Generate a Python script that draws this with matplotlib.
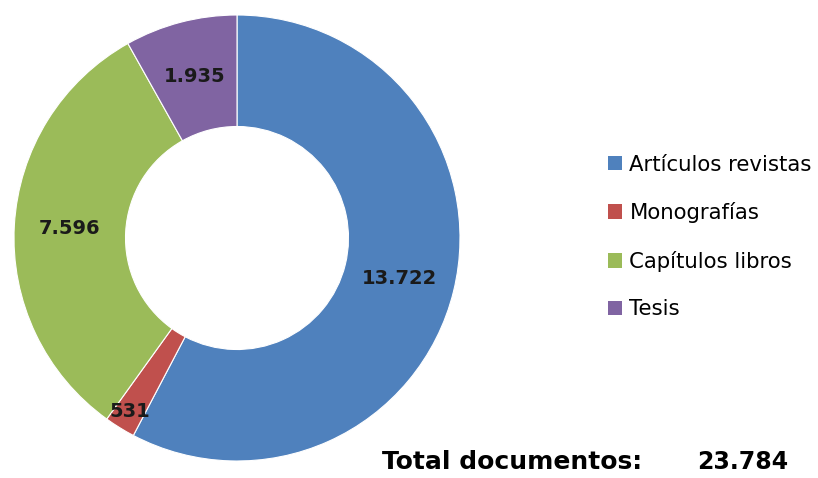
import matplotlib
matplotlib.use("Agg")
import matplotlib.pyplot as plt
import numpy as np
from matplotlib.patches import Patch

categories = ["Artículos revistas", "Monografías", "Capítulos libros", "Tesis"]
values = [13722, 531, 7596, 1935]
value_labels = ["13.722", "531", "7.596", "1.935"]
colors = ["#4F81BD", "#C0504D", "#9BBB59", "#8064A2"]
total_label = "Total documentos:"
total_value = "23.784"

W, H = 818, 478
fig = plt.figure(figsize=(W / 100, H / 100), dpi=100)
cx, cy, R = 237, 238, 223
ax = fig.add_axes([(cx - R) / W, (H - cy - R) / H, 2 * R / W, 2 * R / H])
wedges, _ = ax.pie(values, colors=colors, startangle=90, counterclock=False,
                   radius=1.0, wedgeprops=dict(width=0.5, edgecolor="white", linewidth=0.8))
ax.set_xlim(-1, 1)
ax.set_ylim(-1, 1)
ax.set_aspect("equal")
ax.axis("off")

label_r = [0.75, 0.915, 0.75, 0.75]
for w, lab, r in zip(wedges, value_labels, label_r):
    mid = np.deg2rad((w.theta1 + w.theta2) / 2)
    ax.text(r * np.cos(mid), r * np.sin(mid), lab, ha="center", va="center",
            fontsize=14, fontweight="bold", color="#1a1a1a", family="DejaVu Sans")

handles = [Patch(facecolor=c, edgecolor="none") for c in colors]
fig.legend(handles, categories, loc="center left", bbox_to_anchor=(608 / W, 1 - 237 / H),
           frameon=False, fontsize=15.3, labelspacing=1.3, handlelength=0.68, handleheight=0.68,
           handletextpad=0.33, borderpad=0, borderaxespad=0)

fig.text(382 / W, 1 - 462 / H, total_label, ha="left", va="center", fontsize=18,
         fontweight="bold", color="black")
fig.text(788 / W, 1 - 462 / H, total_value, ha="right", va="center", fontsize=17,
         fontweight="bold", color="black")

fig.savefig("out.png", dpi=100)
